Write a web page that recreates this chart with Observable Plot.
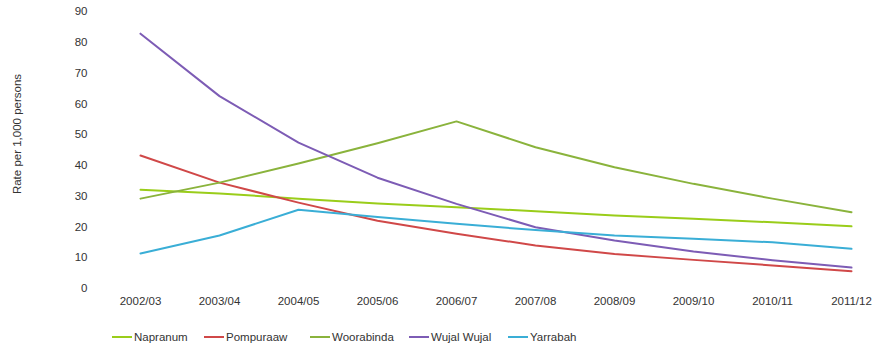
<!DOCTYPE html>
<html>
<head>
<meta charset="utf-8">
<script src="https://cdn.jsdelivr.net/npm/d3@7"></script>
<script src="https://cdn.jsdelivr.net/npm/@observablehq/plot@0.6"></script>
<style>
  html, body { margin: 0; padding: 0; background: #fff; }
  body { width: 876px; height: 348px; overflow: hidden; font-family: "Liberation Sans", Arial, sans-serif; }
  #legend { position: relative; height: 26px; font-size: 11.5px; color: #333; }
  .item { position: absolute; top: 9px; display: flex; align-items: center; white-space: nowrap; }
  .sw { display: inline-block; width: 20px; height: 2px; margin-right: 2px; }
</style>
</head>
<body>
<div id="chart"></div>
<div id="legend"></div>
<script>
const years = ["2002/03","2003/04","2004/05","2005/06","2006/07","2007/08","2008/09","2009/10","2010/11","2011/12"];
const seriesNames = ["Napranum","Pompuraaw","Woorabinda","Wujal Wujal","Yarrabah"];
const napranum   = [32.1, 30.9, 29.2, 27.6, 26.4, 25.1, 23.7, 22.7, 21.5, 20.2];
const pompuraaw  = [43.2, 34.4, 27.9, 22.0, 17.8, 14.0, 11.2, 9.3, 7.5, 5.6];
const woorabinda = [29.2, 34.4, 40.6, 47.2, 54.3, 45.9, 39.4, 34.0, 29.2, 24.8];
const wujalWujal = [82.8, 62.5, 47.4, 36.0, 27.5, 19.9, 15.6, 12.0, 9.2, 6.8];
const yarrabah   = [11.4, 17.2, 25.6, 23.2, 21.0, 19.0, 17.2, 16.2, 15.0, 12.9];
const colors = ["#9acd1a","#d04848","#8ab33c","#7d5cb5","#3aaed6"];
const yTicks = [0,10,20,30,40,50,60,70,80,90];

const allSeries = [napranum, pompuraaw, woorabinda, wujalWujal, yarrabah];
const rows = [];
seriesNames.forEach((name, i) => {
  years.forEach((yr, j) => rows.push({series: name, year: yr, value: allSeries[i][j]}));
});

const font = "Liberation Sans, Arial, sans-serif";
const chart = Plot.plot({
  width: 876,
  height: 322,
  marginTop: 11,
  marginBottom: 34,
  marginLeft: 97,
  marginRight: 23,
  style: {fontFamily: font, fontSize: "11.5px", color: "#333", background: "#fff"},
  x: {type: "point", domain: years, range: [137, 853], padding: 0, label: null},
  y: {domain: [0, 90], label: null},
  color: {domain: seriesNames, range: colors},
  marks: [
    Plot.axisY({ticks: yTicks, tickSize: 0, tickPadding: 10, label: null, fontSize: 11.5}),
    Plot.axisX({tickSize: 0, tickPadding: 8, label: null, fontSize: 11.5}),
    Plot.text(["Rate per 1,000 persons"], {frameAnchor: "left", textAnchor: "middle", dx: -80, dy: -16, rotate: -90, fontSize: 11.5, fill: "#333"}),
    Plot.line(rows, {x: "year", y: "value", stroke: "series", z: "series", strokeWidth: 2})
  ]
});
document.getElementById("chart").appendChild(chart);

const legend = document.getElementById("legend");
const lefts = [112, 204, 310, 409, 508];
seriesNames.forEach((name, i) => {
  const it = document.createElement("div");
  it.className = "item";
  it.style.left = lefts[i] + "px";
  const sw = document.createElement("span");
  sw.className = "sw";
  sw.style.background = colors[i];
  const t = document.createElement("span");
  t.textContent = name;
  it.appendChild(sw);
  it.appendChild(t);
  legend.appendChild(it);
});
</script>
</body>
</html>
